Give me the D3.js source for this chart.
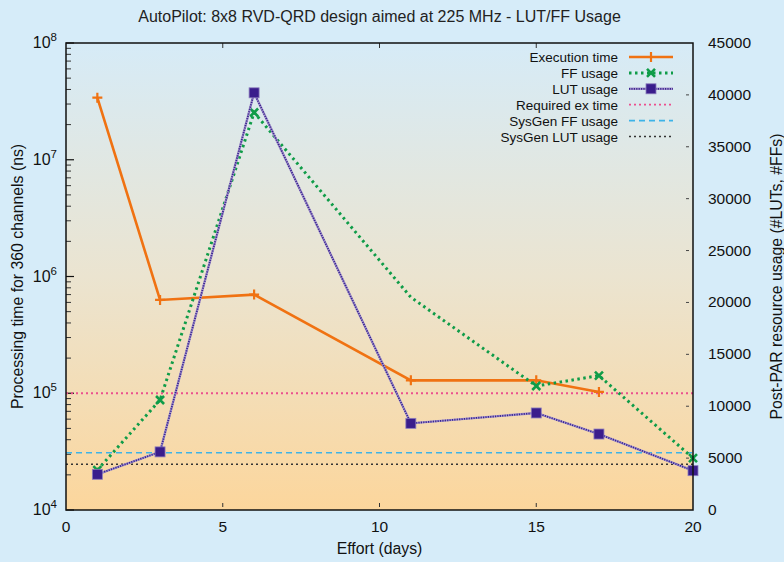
<!DOCTYPE html>
<html>
<head>
<meta charset="utf-8">
<script src="https://cdn.jsdelivr.net/npm/d3@7"></script>
<style>
  body { margin: 0; background: #d6ecf9; }
  svg { display: block; font-family: "Liberation Sans", Arial, sans-serif; }
</style>
</head>
<body>
<div id="chart"></div>
<script>
// values
var execDays = [1, 3, 6, 11, 15, 17]
var execTime = [3.4e7, 6.3e5, 7.0e5, 1.29e5, 1.29e5, 1.026e5]   // ns, left log axis

var usageDays = [1, 3, 6, 11, 15, 17, 20]
var ffUsage  = [3850, 10600, 38300, 20500, 11950, 12950, 5000]
var ffMarked = [true, true, true, false, true, true, true]
var lutUsage = [3440, 5600, 40200, 8350, 9350, 7320, 3790]

var requiredExTime = 1e5
var sysgenFF = 5520
var sysgenLUT = 4400

var xTicks = [0, 5, 10, 15, 20]
var leftTickExp = [4, 5, 6, 7, 8]
var rightTicks = [0, 5000, 10000, 15000, 20000, 25000, 30000, 35000, 40000, 45000]

var legendNames = ["Execution time", "FF usage", "LUT usage", "Required ex time", "SysGen FF usage", "SysGen LUT usage"]

var W = 784, H = 562
var margin = {top: 43, right: 91, bottom: 52, left: 66},
    width = W - margin.left - margin.right,
    height = H - margin.top - margin.bottom

var svg = d3.select("#chart").append("svg")
    .attr("width", W)
    .attr("height", H)

var defs = svg.append("defs")
var grad = defs.append("linearGradient").attr("id", "bg").attr("x1", 0).attr("y1", 0).attr("x2", 0).attr("y2", 1)
grad.append("stop").attr("offset", "0%").attr("stop-color", "#d6ebf7")
grad.append("stop").attr("offset", "50%").attr("stop-color", "#ebe4d0")
grad.append("stop").attr("offset", "100%").attr("stop-color", "#fcd69c")

svg.append("rect").attr("width", W).attr("height", H).attr("fill", "#d6ecf9")

var g = svg.append("g")
    .attr("transform", "translate(" + margin.left + "," + margin.top + ")")

g.append("rect").attr("width", width).attr("height", height).attr("fill", "url(#bg)")

var x = d3.scaleLinear().domain([0, 20]).range([0, width])
var yL = d3.scaleLog().domain([1e4, 1e8]).range([height, 0])
var yR = d3.scaleLinear().domain([0, 45000]).range([height, 0])

// title, centred over the plot
svg.append("text")
  .attr("x", margin.left + width / 2).attr("y", 22)
  .attr("text-anchor", "middle")
  .style("font-size", "16px")
  .attr("fill", "#222")
  .text("AutoPilot: 8x8 RVD-QRD design aimed at 225 MHz - LUT/FF Usage")

// left log ticks (major + minor, inward)
var minor = []
leftTickExp.slice(0, -1).forEach(function(e) {
  for (var k = 2; k <= 9; k++) minor.push(k * Math.pow(10, e))
})
g.selectAll(".minor").data(minor).enter().append("line")
  .attr("x1", 0).attr("x2", 5)
  .attr("y1", function(d) { return yL(d) }).attr("y2", function(d) { return yL(d) })
  .attr("stroke", "#333").attr("stroke-width", 1)
g.selectAll(".major").data(leftTickExp).enter().append("line")
  .attr("x1", 0).attr("x2", 8)
  .attr("y1", function(d) { return yL(Math.pow(10, d)) }).attr("y2", function(d) { return yL(Math.pow(10, d)) })
  .attr("stroke", "#111").attr("stroke-width", 1.2)

var lbl = g.selectAll(".ylab").data(leftTickExp).enter().append("text")
  .attr("x", -9).attr("y", function(d) { return yL(Math.pow(10, d)) + 5 })
  .attr("text-anchor", "end")
  .attr("fill", "#111")
  .style("font-size", "16px")
lbl.append("tspan").text("10")
lbl.append("tspan").attr("dy", -7).style("font-size", "11.5px").text(function(d) { return d })

// right ticks
g.selectAll(".rtick").data(rightTicks.slice(1, -1)).enter().append("line")
  .attr("x1", width - 7).attr("x2", width - 4)
  .attr("y1", function(d) { return yR(d) }).attr("y2", function(d) { return yR(d) })
  .attr("stroke", "#444").attr("stroke-width", 1)
g.selectAll(".rlab").data(rightTicks).enter().append("text")
  .attr("x", width + 15).attr("y", function(d) { return yR(d) + 5 })
  .attr("fill", "#111")
  .style("font-size", "15.5px")
  .text(function(d) { return d })

// x ticks
g.selectAll(".xtop").data(xTicks.slice(1, -1)).enter().append("line")
  .attr("x1", function(d) { return x(d) }).attr("x2", function(d) { return x(d) })
  .attr("y1", 0).attr("y2", 5)
  .attr("stroke", "#333").attr("stroke-width", 1)
g.selectAll(".xbot").data(xTicks.slice(1, -1)).enter().append("line")
  .attr("x1", function(d) { return x(d) }).attr("x2", function(d) { return x(d) })
  .attr("y1", height - 7).attr("y2", height - 3)
  .attr("stroke", "#333").attr("stroke-width", 1)
g.selectAll(".xlab").data(xTicks).enter().append("text")
  .attr("x", function(d) { return x(d) }).attr("y", height + 22)
  .attr("text-anchor", "middle")
  .attr("fill", "#111")
  .style("font-size", "15.5px")
  .text(function(d) { return d })

// axis titles
svg.append("text")
  .attr("x", margin.left + width / 2).attr("y", 554)
  .attr("text-anchor", "middle")
  .style("font-size", "15.8px").attr("fill", "#111")
  .text("Effort (days)")
svg.append("text")
  .attr("transform", "translate(23," + (margin.top + height / 2) + ") rotate(-90)")
  .attr("text-anchor", "middle")
  .style("font-size", "15.8px").attr("fill", "#111")
  .text("Processing time for 360 channels (ns)")
svg.append("text")
  .attr("transform", "translate(782," + (margin.top + height / 2) + ") rotate(-90)")
  .attr("text-anchor", "middle")
  .style("font-size", "15.8px").attr("fill", "#111")
  .text("Post-PAR resource usage (#LUTs, #FFs)")

// horizontal reference lines
g.append("line").attr("x1", 0).attr("x2", width)
  .attr("y1", yL(requiredExTime)).attr("y2", yL(requiredExTime))
  .attr("stroke", "#ec4f8e").attr("stroke-width", 1.8).attr("stroke-dasharray", "2,3")
g.append("line").attr("x1", 0).attr("x2", width)
  .attr("y1", yR(sysgenFF)).attr("y2", yR(sysgenFF))
  .attr("stroke", "#3db3e8").attr("stroke-width", 1.6).attr("stroke-dasharray", "6,4")
g.append("line").attr("x1", 0).attr("x2", width)
  .attr("y1", yR(sysgenLUT)).attr("y2", yR(sysgenLUT))
  .attr("stroke", "#333").attr("stroke-width", 1.5).attr("stroke-dasharray", "2,3")

// execution time
var execData = execDays.map(function(d, i) { return {x: d, y: execTime[i]} })
var execLine = d3.line().x(function(d) { return x(d.x) }).y(function(d) { return yL(d.y) })
g.append("path").datum(execData).attr("d", execLine)
  .attr("fill", "none").attr("stroke", "#f07212").attr("stroke-width", 2.6)
function plus(sel, cx, cy, c) {
  sel.append("path").attr("d", "M" + (cx - 5) + "," + cy + "h10M" + cx + "," + (cy - 5) + "v10")
    .attr("stroke", c).attr("stroke-width", 2.2).attr("fill", "none")
}
execData.forEach(function(d) { plus(g, x(d.x), yL(d.y), "#f07212") })

// FF usage
var ffData = usageDays.map(function(d, i) { return {x: d, y: ffUsage[i], m: ffMarked[i]} })
var rLine = d3.line().x(function(d) { return x(d.x) }).y(function(d) { return yR(d.y) })
g.append("path").datum(ffData).attr("d", rLine)
  .attr("fill", "none").attr("stroke", "#0f9c48").attr("stroke-width", 3).attr("stroke-dasharray", "2.5,3.5")
function cross(sel, cx, cy, c) {
  sel.append("path").attr("d", "M" + (cx - 4) + "," + (cy - 4) + "l8,8M" + (cx - 4) + "," + (cy + 4) + "l8,-8")
    .attr("stroke", c).attr("stroke-width", 2.6).attr("fill", "none")
}
ffData.filter(function(d) { return d.m }).forEach(function(d) { cross(g, x(d.x), yR(d.y), "#0f9c48") })

// LUT usage
var lutData = usageDays.map(function(d, i) { return {x: d, y: lutUsage[i]} })
g.append("path").datum(lutData).attr("d", rLine)
  .attr("fill", "none").attr("stroke", "#a596cc").attr("stroke-width", 2.4)
g.append("path").datum(lutData).attr("d", rLine)
  .attr("fill", "none").attr("stroke", "#3a2490").attr("stroke-width", 1.8).attr("stroke-dasharray", "1.2,1.2")
function square(sel, cx, cy) {
  sel.append("rect").attr("x", cx - 5).attr("y", cy - 5).attr("width", 10).attr("height", 10)
    .attr("fill", "#3a1d8c").attr("stroke", "#8c7dbd").attr("stroke-width", 0.8)
}
lutData.forEach(function(d) { square(g, x(d.x), yR(d.y)) })

// frame
g.append("rect").attr("width", width).attr("height", height)
  .attr("fill", "none").attr("stroke", "#111").attr("stroke-width", 1.5)

// legend
var lg = svg.append("g")
var rowY = function(i) { return 57 + i * 15.9 }
lg.selectAll("text").data(legendNames).enter().append("text")
  .attr("x", 618).attr("y", function(d, i) { return rowY(i) + 5 })
  .attr("text-anchor", "end")
  .style("font-size", "13.5px").attr("fill", "#111")
  .text(function(d) { return d })
var sx1 = 629, sx2 = 673, smid = 651
lg.append("line").attr("x1", sx1).attr("x2", sx2).attr("y1", rowY(0)).attr("y2", rowY(0))
  .attr("stroke", "#f07212").attr("stroke-width", 2.6)
plus(lg, smid, rowY(0), "#f07212")
lg.append("line").attr("x1", sx1).attr("x2", sx2).attr("y1", rowY(1)).attr("y2", rowY(1))
  .attr("stroke", "#0f9c48").attr("stroke-width", 3).attr("stroke-dasharray", "2.5,3.5")
cross(lg, smid, rowY(1), "#0f9c48")
lg.append("line").attr("x1", sx1).attr("x2", sx2).attr("y1", rowY(2)).attr("y2", rowY(2))
  .attr("stroke", "#a596cc").attr("stroke-width", 2.4)
lg.append("line").attr("x1", sx1).attr("x2", sx2).attr("y1", rowY(2)).attr("y2", rowY(2))
  .attr("stroke", "#3a2490").attr("stroke-width", 1.8).attr("stroke-dasharray", "1.2,1.2")
square(lg, smid, rowY(2))
lg.append("line").attr("x1", sx1).attr("x2", sx2).attr("y1", rowY(3)).attr("y2", rowY(3))
  .attr("stroke", "#ec4f8e").attr("stroke-width", 1.8).attr("stroke-dasharray", "2,3")
lg.append("line").attr("x1", sx1).attr("x2", sx2).attr("y1", rowY(4)).attr("y2", rowY(4))
  .attr("stroke", "#3db3e8").attr("stroke-width", 1.6).attr("stroke-dasharray", "6,4")
lg.append("line").attr("x1", sx1).attr("x2", sx2).attr("y1", rowY(5)).attr("y2", rowY(5))
  .attr("stroke", "#333").attr("stroke-width", 1.5).attr("stroke-dasharray", "2,3")
</script>
</body>
</html>
